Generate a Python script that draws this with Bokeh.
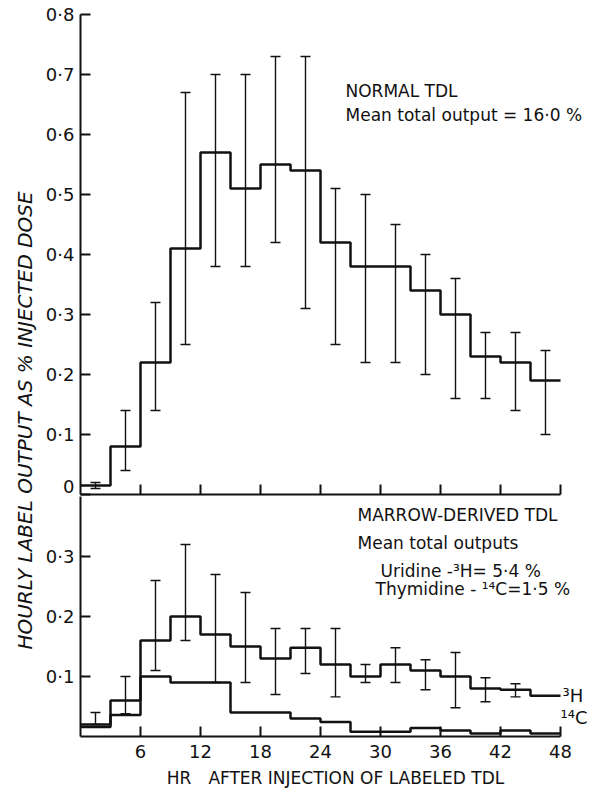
import math
from bokeh.plotting import figure
from bokeh.models import Range1d, FixedTicker, Whisker, TeeHead, ColumnDataSource
from bokeh.layouts import row, column
from bokeh.embed import file_html
from bokeh.resources import INLINE
from bokeh.core.properties import value

# ---------------- data ----------------
bin_edges = [0, 3, 6, 9, 12, 15, 18, 21, 24, 27, 30, 33, 36, 39, 42, 45, 48]

normal_values = [0.015, 0.08, 0.22, 0.41, 0.57, 0.51, 0.55, 0.54, 0.42, 0.38, 0.38, 0.34, 0.30, 0.23, 0.22, 0.19]
normal_lower = [0.01, 0.04, 0.14, 0.25, 0.38, 0.38, 0.42, 0.31, 0.25, 0.22, 0.22, 0.20, 0.16, 0.16, 0.14, 0.10]
normal_upper = [0.02, 0.14, 0.32, 0.67, 0.70, 0.70, 0.73, 0.73, 0.51, 0.50, 0.45, 0.40, 0.36, 0.27, 0.27, 0.24]

h3_values = [0.02, 0.06, 0.16, 0.20, 0.17, 0.15, 0.13, 0.148, 0.12, 0.10, 0.12, 0.11, 0.10, 0.08, 0.078, 0.068]
h3_lower = [0.02, 0.038, 0.11, 0.16, 0.09, 0.09, 0.07, 0.105, 0.066, 0.09, 0.09, 0.078, 0.048, 0.058, 0.066, None]
h3_upper = [0.04, 0.10, 0.26, 0.32, 0.27, 0.24, 0.18, 0.18, 0.18, 0.12, 0.148, 0.128, 0.14, 0.098, 0.088, None]

c14_values = [0.016, 0.036, 0.10, 0.09, 0.09, 0.04, 0.04, 0.03, 0.024, 0.008, 0.008, 0.014, 0.01, 0.005, 0.01, 0.005]

x_ticks = [6, 12, 18, 24, 30, 36, 42, 48]
top_y_ticks = [0, 0.1, 0.2, 0.3, 0.4, 0.5, 0.6, 0.7, 0.8]
top_y_labels = ["0", "0·1", "0·2", "0·3", "0·4", "0·5", "0·6", "0·7", "0·8"]
bottom_y_ticks = [0.1, 0.2, 0.3]
bottom_y_labels = ["0·1", "0·2", "0·3"]

FONT = "DejaVu Sans"
INK = "#111111"


def step_xy(values):
    return bin_edges, list(values) + [values[-1]]


def whisker_source(values, lower, upper):
    xs, lo, hi = [], [], []
    for i, v in enumerate(values):
        if lower[i] is None or upper[i] is None:
            continue
        xs.append((bin_edges[i] + bin_edges[i + 1]) / 2)
        lo.append(lower[i])
        hi.append(upper[i])
    return ColumnDataSource(dict(x=xs, lower=lo, upper=hi))


def add_whiskers(p, src):
    w = Whisker(base="x", lower="lower", upper="upper", source=src,
                line_color=INK, line_width=1.4,
                upper_head=TeeHead(size=10, line_color=INK, line_width=1.4),
                lower_head=TeeHead(size=10, line_color=INK, line_width=1.4))
    p.add_layout(w)


def style_common(p):
    p.outline_line_color = None
    p.xgrid.visible = False
    p.ygrid.visible = False
    p.background_fill_color = "white"
    p.border_fill_color = "white"
    for ax in p.axis:
        ax.axis_line_color = INK
        ax.axis_line_width = 2
        ax.major_tick_line_color = INK
        ax.major_tick_line_width = 2
        ax.major_tick_in = 10
        ax.major_tick_out = 0
        ax.minor_tick_line_color = None
        ax.major_label_text_font = FONT
        ax.major_label_text_font_size = "18px"
        ax.major_label_text_color = INK


def add_text(p, x, y, s, size="17px"):
    p.text(x=[x], y=[y], text=[s], text_font=value(FONT), text_font_size=size,
           text_color=INK, text_baseline="middle", text_align="left")


x_range = Range1d(0, 51)

# ---------------- top panel ----------------
p1 = figure(width=550, height=496, x_range=x_range, y_range=Range1d(0, 0.8),
            output_backend="svg", toolbar_location=None,
            min_border_left=40, min_border_right=0, min_border_top=14, min_border_bottom=2)
style_common(p1)
p1.xaxis.ticker = FixedTicker(ticks=x_ticks)
p1.xaxis.bounds = (0, 48)
p1.xaxis.major_label_text_font_size = "1px"
p1.xaxis.major_label_text_color = None
p1.xaxis.major_label_standoff = 0
p1.yaxis.ticker = FixedTicker(ticks=top_y_ticks)
p1.yaxis.major_label_overrides = dict(zip(top_y_ticks, top_y_labels))
p1.yaxis.bounds = (0, 0.8)
p1.yaxis.major_label_standoff = 6

sx, sy = step_xy(normal_values)
p1.step(sx, sy, mode="after", line_color=INK, line_width=2.5)
add_whiskers(p1, whisker_source(normal_values, normal_lower, normal_upper))

add_text(p1, 26.5, 0.672, "NORMAL TDL")
add_text(p1, 26.5, 0.632, "Mean total output = 16·0 %")

# ---------------- bottom panel ----------------
p2 = figure(width=550, height=302, x_range=x_range, y_range=Range1d(0, 0.4),
            output_backend="svg", toolbar_location=None,
            min_border_left=40, min_border_right=0, min_border_top=0, min_border_bottom=62)
style_common(p2)
p2.xaxis.ticker = FixedTicker(ticks=x_ticks)
p2.xaxis.bounds = (0, 48)
p2.xaxis.major_label_standoff = 8
p2.xaxis.axis_label = "HR\u2002\u2002AFTER INJECTION OF LABELED TDL"
p2.xaxis.axis_label_text_font = FONT
p2.xaxis.axis_label_text_font_size = "17px"
p2.xaxis.axis_label_text_font_style = "normal"
p2.xaxis.axis_label_text_color = INK
p2.xaxis.axis_label_standoff = 7
p2.yaxis.ticker = FixedTicker(ticks=bottom_y_ticks)
p2.yaxis.major_label_overrides = dict(zip(bottom_y_ticks, bottom_y_labels))
p2.yaxis.bounds = (0, 0.4)
p2.yaxis.major_label_standoff = 6

hx, hy = step_xy(h3_values)
p2.step(hx, hy, mode="after", line_color=INK, line_width=2.5)
cx, cy = step_xy(c14_values)
p2.step(cx, cy, mode="after", line_color=INK, line_width=2.5)
add_whiskers(p2, whisker_source(h3_values, h3_lower, h3_upper))

add_text(p2, 27.7, 0.370, "MARROW-DERIVED TDL")
add_text(p2, 27.7, 0.322, "Mean total outputs")
add_text(p2, 30.0, 0.276, "Uridine -³H= 5·4 %")
add_text(p2, 29.5, 0.246, "Thymidine - ¹⁴C=1·5 %")
add_text(p2, 48.2, 0.068, "³H", size="18px")
add_text(p2, 48.0, 0.032, "¹⁴C", size="18px")

# ---------------- y-axis title strip ----------------
pt = figure(width=40, height=798, x_range=Range1d(0, 1), y_range=Range1d(0, 1),
            output_backend="svg", toolbar_location=None,
            x_axis_type=None, y_axis_type=None,
            min_border_left=0, min_border_right=0, min_border_top=0, min_border_bottom=0)
pt.outline_line_color = None
pt.xgrid.visible = False
pt.ygrid.visible = False
pt.text(x=[0.6], y=[0.4737], text=["HOURLY LABEL OUTPUT AS % INJECTED DOSE"],
        angle=math.pi / 2, text_font=value(FONT), text_font_size="20px",
        text_font_style="italic", text_color=INK,
        text_align="center", text_baseline="middle")

layout = row(pt, column(p1, p2))

open("out.html", "w").write(file_html(layout, INLINE))
